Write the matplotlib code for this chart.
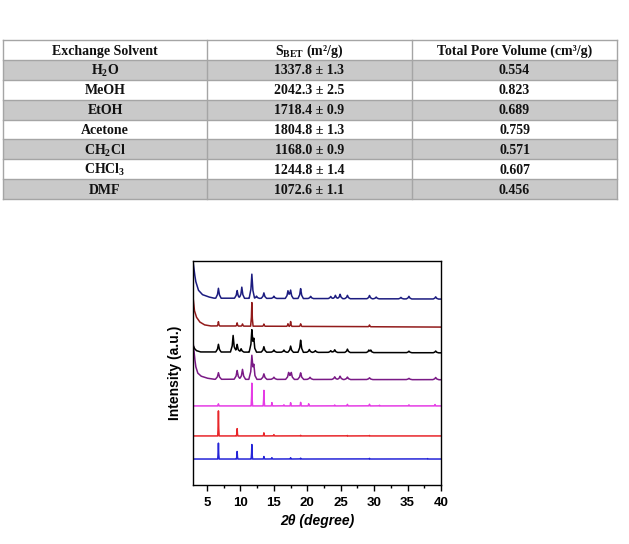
#Imports
import numpy as np
import matplotlib
matplotlib.use('Agg')
import matplotlib.pyplot as plt
from matplotlib.patches import Rectangle
from matplotlib.ticker import MultipleLocator

plt.rcParams['mathtext.fontset'] = 'custom'
plt.rcParams['mathtext.rm'] = 'Liberation Serif'
plt.rcParams['mathtext.bf'] = 'Liberation Serif:bold'

#-------------------Table data-------------------#
col_heads = ['Exchange Solvent', 'S$_\\mathbf{BET}$ (m²/g)', 'Total Pore Volume (cm³/g)']
solvents = ['H$_\\mathbf{2}$O', 'MeOH', 'EtOH', 'Acetone', 'CH$_\\mathbf{2}$Cl',
            'CHCl$_\\mathbf{3}$', 'DMF']
sbet = ['1337.8 ± 1.3', '2042.3 ± 2.5', '1718.4 ± 0.9', '1804.8 ± 1.3',
        '1168.0 ± 0.9', '1244.8 ± 1.4', '1072.6 ± 1.1']
pore_vol = ['0.554', '0.823', '0.689', '0.759', '0.571', '0.607', '0.456']

#-------------------XRD data-------------------#
#each pattern: baseline offset, low angle tail (x, y) and peaks (pos, height)
x_lim = (2.9, 40)

navy_tail_x = [2.9, 3.1, 3.3, 3.7, 4.3, 5.2, 6.0, 40]
navy_tail_y = [100, 95, 91, 87, 85, 84, 83.4, 83]
navy_pos = [6.7, 9.5, 10.2, 11.7, 12.4, 13.5, 15.0, 17.1, 17.5, 19.0, 20.5, 23.5, 24.2, 24.9, 26.0, 29.3, 30.3, 34.0, 35.2, 39.2]
navy_h = [4.5, 3.5, 5.0, 11.0, 1.0, 2.5, 1.0, 3.5, 3.8, 4.5, 1.0, 1.0, 1.5, 2.0, 1.5, 1.5, 0.8, 0.7, 1.2, 1.0]

dred_tail_x = [2.9, 3.1, 3.4, 3.9, 4.6, 5.5, 40]
dred_tail_y = [84, 78, 75, 72.8, 71.5, 71.0, 70.5]
dred_pos = [6.7, 9.5, 10.3, 11.7, 13.5, 17.1, 17.5, 19.0, 29.3]
dred_h = [2.0, 1.5, 1.0, 11.0, 1.0, 1.2, 2.2, 1.2, 0.8]

black_tail_x = [2.9, 3.1, 3.4, 4.0, 40]
black_tail_y = [62.5, 61.0, 60.0, 59.4, 59.0]
black_pos = [6.7, 8.9, 9.5, 10.1, 11.7, 12.0, 13.5, 15.0, 16.5, 17.5, 19.0, 20.3, 21.2, 23.5, 24.1, 26.0, 29.2, 29.5, 35.2, 39.2]
black_h = [3.5, 7.5, 3.5, 1.5, 9.5, 5.0, 2.5, 1.0, 1.0, 2.8, 5.5, 1.3, 0.8, 0.8, 1.2, 1.5, 1.0, 1.0, 0.7, 0.8]

purple_tail_x = [2.9, 3.1, 3.3, 3.6, 4.1, 5.0, 6.0, 40]
purple_tail_y = [64, 58, 53, 50, 48.6, 47.7, 47.2, 47.0]
purple_pos = [6.7, 9.5, 10.3, 11.7, 12.0, 13.5, 15.0, 17.2, 17.6, 19.0, 20.4, 24.1, 24.9, 26.0, 29.3, 35.2, 39.2]
purple_h = [3.0, 4.0, 4.5, 10.0, 5.0, 2.5, 1.0, 3.0, 3.0, 3.0, 1.0, 1.2, 1.5, 1.1, 0.8, 0.6, 1.0]

mag_base = 35.3
mag_pos = [6.7, 11.7, 13.5, 14.7, 16.5, 17.5, 19.0, 20.2, 24.1, 26.0, 29.3, 30.8, 35.2, 39.1]
mag_h = [1.0, 11.0, 7.5, 1.5, 0.5, 1.5, 1.7, 1.0, 0.4, 0.7, 0.8, 0.3, 0.5, 0.6]

red_base = 21.9
red_pos = [6.7, 9.5, 13.5, 15.0, 19.0, 26.0, 29.3]
red_h = [12.0, 3.5, 1.5, 0.6, 0.3, 0.2, 0.2]

blue_base = 11.6
blue_pos = [6.7, 9.5, 11.7, 13.5, 14.7, 17.5, 19.0, 29.3, 38.0]
blue_h = [7.6, 3.6, 7.0, 1.2, 0.6, 0.6, 0.4, 0.3, 0.2]

#Build a trace from baseline + peaks (rounded tops for the broad ones)
xx = np.linspace(x_lim[0], x_lim[1], 4000)
def trace(tail_x, tail_y, pos, h, w):
    y = np.interp(xx, tail_x, tail_y)
    for p, hh in zip(pos, h):
        y = y + np.interp(xx, [p - w, p - 0.35 * w, p, p + 0.35 * w, p + w],
                          [0, 0.35 * hh, hh, 0.35 * hh, 0], left=0, right=0)
    return y

#-------------------Figure-------------------#
fig = plt.figure(figsize=(6.29, 5.44), dpi=100)
W, H = 629, 544

#Table drawn in pixel coords
tab = fig.add_axes([0, 0, 1, 1])
tab.set_xlim(0, W)
tab.set_ylim(H, 0)
tab.axis('off')

col_x = [3, 207, 412, 617]
row_y = [40, 60] + [60 + (199 - 60) / 7 * (i + 1) for i in range(7)]
for i in range(7):
    if i % 2 == 0:
        tab.add_patch(Rectangle((col_x[0], row_y[i + 1]), col_x[-1] - col_x[0],
                                row_y[i + 2] - row_y[i + 1], color='#c9c9c9', lw=0))
for yy in row_y:
    tab.plot([col_x[0], col_x[-1]], [yy, yy], color='#a5a5a5', lw=1)
for cx in col_x:
    tab.plot([cx, cx], [row_y[0], row_y[-1]], color='#a5a5a5', lw=1)

fnt = dict(family='Liberation Serif', fontweight='bold', fontsize=10, color='#111111',
           ha='center', va='center')
for j, head in enumerate(col_heads):
    tab.text((col_x[j] + col_x[j + 1]) / 2, (row_y[0] + row_y[1]) / 2 + 1, head, **fnt)
for i in range(7):
    yc = (row_y[i + 1] + row_y[i + 2]) / 2 + 1
    for j, val in enumerate([solvents[i], sbet[i], pore_vol[i]]):
        tab.text((col_x[j] + col_x[j + 1]) / 2, yc, val, **fnt)

#XRD plot
ax = fig.add_axes([193 / W, 1 - 485 / H, (441 - 193) / W, (485 - 261) / H])
ax.plot(xx, trace([2.9, 40], [blue_base, blue_base], blue_pos, blue_h, 0.1), color='#2424d8', lw=1.1)
ax.plot(xx, trace([2.9, 40], [red_base, red_base], red_pos, red_h, 0.1), color='#e8262a', lw=1.1)
ax.plot(xx, trace([2.9, 40], [mag_base, mag_base], mag_pos, mag_h, 0.1), color='#e53ce5', lw=1.1)
ax.plot(xx, trace(purple_tail_x, purple_tail_y, purple_pos, purple_h, 0.45), color='#7a1a86', lw=1.1)
ax.plot(xx, trace(black_tail_x, black_tail_y, black_pos, black_h, 0.4), color='black', lw=1.1)
ax.plot(xx, trace(dred_tail_x, dred_tail_y, dred_pos, dred_h, 0.18), color='#921b1b', lw=1.1)
ax.plot(xx, trace(navy_tail_x, navy_tail_y, navy_pos, navy_h, 0.4), color='#1c1c80', lw=1.1)

ax.set_xlim(x_lim)
ax.set_ylim(0, 100)
ax.set_yticks([])
ax.xaxis.set_major_locator(MultipleLocator(5))
ax.xaxis.set_minor_locator(MultipleLocator(2.5))
ax.tick_params(axis='x', which='major', direction='out', length=4, width=1, pad=5)
ax.tick_params(axis='x', which='minor', direction='out', length=2.5, width=1)
for lab in ax.get_xticklabels():
    lab.set_fontfamily('Liberation Sans')
    lab.set_fontweight('bold')
    lab.set_fontsize(9.5)
for s in ax.spines.values():
    s.set_linewidth(1)
ax.set_ylabel('Intensity (a.u.)', family='Liberation Sans', fontweight='bold', fontsize=10, labelpad=8)
ax.set_xlabel('2θ (degree)', family='Liberation Sans', fontweight='bold', style='italic', fontsize=10, labelpad=3)

plt.savefig('out.png', dpi=100)
